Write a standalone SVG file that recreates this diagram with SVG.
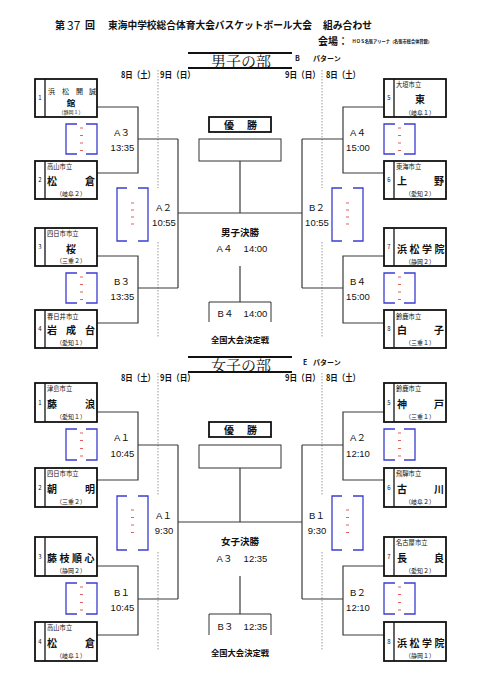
<svg xmlns="http://www.w3.org/2000/svg" width="481" height="680" viewBox="0 0 481 680">
<style>
.bg{fill:#fff}
.box{fill:#fff;stroke:#111;stroke-width:1.8}
.dv{stroke:#111;stroke-width:1.3}
.con{fill:none;stroke:#3a3a3a;stroke-width:1.2}
.thin{fill:none;stroke:#333;stroke-width:1}
.thick{fill:none;stroke:#111;stroke-width:1.8}
.dot{stroke:#9a9a9a;stroke-width:1;stroke-dasharray:1.5 1.5}
.slot{fill:none;stroke:#3c3cd2;stroke-width:1.3}
.dash{stroke:#e06060;stroke-width:1.1}
.rule{stroke:#111;stroke-width:1.8}
text{font-family:"Noto Sans CJK JP","Liberation Sans",sans-serif;fill:#111}
.num{font-size:6px;text-anchor:middle}
.sm{font-size:6.3px}
.nm{font-size:10px;font-weight:bold}
.pf{font-size:6px;text-anchor:middle}
.lbl{font-family:"Liberation Sans","Noto Sans CJK JP",sans-serif;font-size:9.5px;text-anchor:middle}
.b{font-weight:bold}
.c{text-anchor:middle}
.day{font-size:9px;font-weight:bold}
.sec{font-family:"Noto Serif CJK JP","Noto Sans CJK JP",serif;font-size:15px;text-anchor:middle}
</style>
<rect class="bg" x="0" y="0" width="481" height="680"/>

<g id="header">
<text x="55" y="29" class="b" font-size="10">第</text>
<text x="67" y="30" font-family="Liberation Sans,sans-serif" font-size="12">37</text>
<text x="85" y="29" class="b" font-size="10">回</text>
<text x="108" y="29" class="b" font-size="10" textLength="204" lengthAdjust="spacingAndGlyphs">東海中学校総合体育大会バスケットボール大会</text>
<text x="323" y="29" class="b" font-size="10" textLength="49" lengthAdjust="spacingAndGlyphs">組み合わせ</text>
<text x="318" y="45" class="b" font-size="10">会場：</text>
<text x="352" y="43" class="b" font-size="4.3" textLength="80" lengthAdjust="spacingAndGlyphs">ＨＯＳ名張アリーナ（名張市総合体育館）</text>
</g>

<g id="boys-title">
<line class="rule" x1="188" y1="53" x2="292" y2="53"/>
<line class="rule" x1="188" y1="68" x2="292" y2="68"/>
<text x="241" y="66.5" class="sec">男子の部</text>
<text x="295" y="61" class="b" font-size="7">B</text>
<text x="313" y="61" class="b" font-size="7">パターン</text>
<text x="121" y="78" class="day" textLength="34" lengthAdjust="spacingAndGlyphs">8日（土）</text>
<text x="160" y="78" class="day" textLength="35" lengthAdjust="spacingAndGlyphs">9日（日）</text>
<text x="285" y="78" class="day" textLength="35" lengthAdjust="spacingAndGlyphs">9日（日）</text>
<text x="326" y="78" class="day" textLength="34" lengthAdjust="spacingAndGlyphs">8日（土）</text>
</g>

<g id="girls-title">
<line class="rule" x1="188" y1="357" x2="292" y2="357"/>
<line class="rule" x1="188" y1="372" x2="292" y2="372"/>
<text x="241" y="370.5" class="sec">女子の部</text>
<text x="303" y="365" class="b" font-size="7">E</text>
<text x="313" y="365" class="b" font-size="7">パターン</text>
<text x="121" y="381" class="day" textLength="34" lengthAdjust="spacingAndGlyphs">8日（土）</text>
<text x="160" y="381" class="day" textLength="35" lengthAdjust="spacingAndGlyphs">9日（日）</text>
<text x="285" y="381" class="day" textLength="35" lengthAdjust="spacingAndGlyphs">9日（日）</text>
<text x="326" y="381" class="day" textLength="34" lengthAdjust="spacingAndGlyphs">8日（土）</text>
</g>

<g id="day-dividers">
<line class="dot" x1="158" y1="70" x2="158" y2="188"/>
<line class="dot" x1="158" y1="242" x2="158" y2="337"/>
<line class="dot" x1="322" y1="70" x2="322" y2="188"/>
<line class="dot" x1="322" y1="242" x2="322" y2="337"/>
<line class="dot" x1="158" y1="373" x2="158" y2="495"/>
<line class="dot" x1="158" y1="552" x2="158" y2="650"/>
<line class="dot" x1="322" y1="373" x2="322" y2="495"/>
<line class="dot" x1="322" y1="552" x2="322" y2="650"/>
</g>

<g id="connectors">
<polyline class="con" points="97,107 138,107 138,173 97,173"/>
<polyline class="con" points="97,256 138,256 138,323 97,323"/>
<line class="con" x1="138" y1="139" x2="178" y2="139"/>
<line class="con" x1="138" y1="288" x2="178" y2="288"/>
<line class="con" x1="178" y1="139" x2="178" y2="288"/>
<polyline class="con" points="384,107 343,107 343,173 384,173"/>
<polyline class="con" points="384,256 343,256 343,323 384,323"/>
<line class="con" x1="343" y1="139" x2="302" y2="139"/>
<line class="con" x1="343" y1="288" x2="302" y2="288"/>
<line class="con" x1="302" y1="139" x2="302" y2="288"/>
<line class="con" x1="178" y1="213" x2="302" y2="213"/>
<line class="con" x1="240" y1="161" x2="240" y2="213"/>
<line class="con" x1="240" y1="266" x2="240" y2="302"/>
<polyline class="con" points="97,412 138,412 138,480 97,480"/>
<polyline class="con" points="97,566 138,566 138,635 97,635"/>
<line class="con" x1="138" y1="445" x2="178" y2="445"/>
<line class="con" x1="138" y1="599" x2="178" y2="599"/>
<line class="con" x1="178" y1="445" x2="178" y2="599"/>
<polyline class="con" points="384,412 343,412 343,480 384,480"/>
<polyline class="con" points="384,566 343,566 343,635 384,635"/>
<line class="con" x1="343" y1="445" x2="302" y2="445"/>
<line class="con" x1="343" y1="599" x2="302" y2="599"/>
<line class="con" x1="302" y1="445" x2="302" y2="599"/>
<line class="con" x1="178" y1="522" x2="302" y2="522"/>
<line class="con" x1="240" y1="468" x2="240" y2="522"/>
<line class="con" x1="240" y1="576" x2="240" y2="614"/>
</g>

<g id="boys-final">
<rect class="thick" x="209" y="117" width="62" height="15"/>
<text x="224" y="129" class="nm"><tspan x="224">優</tspan><tspan x="247">勝</tspan></text>
<rect class="thin" x="199" y="139" width="82" height="22"/>
<text x="240" y="236" class="c b" font-size="9.5">男子決勝</text>
<text x="224.5" y="252" class="lbl">A４</text>
<text x="255.5" y="252" class="lbl">14:00</text>
<polyline class="thin" points="209,322 209,302 271,302 271,322"/>
<text x="225.5" y="317" class="lbl">B４</text>
<text x="255.5" y="317" class="lbl">14:00</text>
<text x="240" y="343" class="c b" font-size="8.3">全国大会決定戦</text>
</g>

<g id="girls-final">
<rect class="thick" x="209" y="422" width="62" height="15"/>
<text x="224" y="434" class="nm"><tspan x="224">優</tspan><tspan x="247">勝</tspan></text>
<rect class="thin" x="199" y="445" width="82" height="23"/>
<text x="240" y="545" class="c b" font-size="9.5">女子決勝</text>
<text x="224.5" y="562" class="lbl">A３</text>
<text x="255.5" y="562" class="lbl">12:35</text>
<polyline class="thin" points="209,635 209,614 271,614 271,635"/>
<text x="225.5" y="630" class="lbl">B３</text>
<text x="255.5" y="630" class="lbl">12:35</text>
<text x="240" y="656" class="c b" font-size="8.3">全国大会決定戦</text>
</g>

<g id="match-labels">
<text x="122" y="136" class="lbl">A３</text><text x="122.5" y="151" class="lbl">13:35</text>
<text x="164" y="211" class="lbl">A２</text><text x="164" y="226" class="lbl">10:55</text>
<text x="122" y="285" class="lbl">B３</text><text x="122.5" y="300" class="lbl">13:35</text>
<text x="358" y="136" class="lbl">A４</text><text x="358" y="151" class="lbl">15:00</text>
<text x="317" y="211" class="lbl">B２</text><text x="317" y="226" class="lbl">10:55</text>
<text x="358" y="285" class="lbl">B４</text><text x="358" y="300" class="lbl">15:00</text>
<text x="122" y="441" class="lbl">A１</text><text x="122.5" y="457" class="lbl">10:45</text>
<text x="164" y="519" class="lbl">A１</text><text x="164" y="534" class="lbl">9:30</text>
<text x="122" y="596" class="lbl">B１</text><text x="122.5" y="611" class="lbl">10:45</text>
<text x="358" y="441" class="lbl">A２</text><text x="358" y="457" class="lbl">12:10</text>
<text x="317" y="519" class="lbl">B１</text><text x="317" y="534" class="lbl">9:30</text>
<text x="358" y="596" class="lbl">B２</text><text x="358" y="611" class="lbl">12:10</text>
</g>

<g id="score-slots">
<path class="slot" d="M77,124H66V154H77M86,124H97V154H86"/>
<path class="dash" d="M80,128h3M80,135.5h3M80,143h3M80,150.5h3"/>
<path class="slot" d="M127,188H117V241H127M138,188H148V241H138"/>
<path class="dash" d="M131,203h3M131,210h3M131,217h3M131,224h3"/>
<path class="slot" d="M77,273H66V303H77M86,273H97V303H86"/>
<path class="dash" d="M80,277h3M80,284.5h3M80,292h3M80,299.5h3"/>
<path class="slot" d="M395,124H384V154H395M404,124H415V154H404"/>
<path class="dash" d="M398,128h3M398,135.5h3M398,143h3M398,150.5h3"/>
<path class="slot" d="M342,188H332V241H342M353,188H363V241H353"/>
<path class="dash" d="M346,203h3M346,210h3M346,217h3M346,224h3"/>
<path class="slot" d="M395,273H384V303H395M404,273H415V303H404"/>
<path class="dash" d="M398,277h3M398,284.5h3M398,292h3M398,299.5h3"/>
<path class="slot" d="M77,429H66V460H77M86,429H97V460H86"/>
<path class="dash" d="M80,433h3M80,440.5h3M80,448.5h3M80,456h3"/>
<path class="slot" d="M127,496H117V550H127M138,496H148V550H138"/>
<path class="dash" d="M131,510h3M131,517.5h3M131,525h3M131,532.5h3"/>
<path class="slot" d="M77,583H66V614H77M86,583H97V614H86"/>
<path class="dash" d="M80,587h3M80,594.5h3M80,602.5h3M80,610h3"/>
<path class="slot" d="M395,429H384V460H395M404,429H415V460H404"/>
<path class="dash" d="M398,433h3M398,440.5h3M398,448.5h3M398,456h3"/>
<path class="slot" d="M342,496H332V550H342M353,496H363V550H353"/>
<path class="dash" d="M346,510h3M346,517.5h3M346,525h3M346,532.5h3"/>
<path class="slot" d="M395,583H384V614H395M404,583H415V614H404"/>
<path class="dash" d="M398,587h3M398,594.5h3M398,602.5h3M398,610h3"/>
</g>

<g id="boys-team-1">
<rect class="box" x="35" y="79" width="62" height="38"/><line class="dv" x1="45" y1="79" x2="45" y2="117"/>
<text x="40" y="100" class="num">1</text>
<text y="94" style="font-size:7px" x="48 62 76 89">浜松開誠</text>
<text x="71" y="106" class="c" style="font-size:8.5px;font-weight:bold">館</text>
<text x="71" y="114.3" class="c" style="font-size:5px">（静岡１）</text>
</g>
<g id="boys-team-2">
<rect class="box" x="35" y="161" width="62" height="38"/><line class="dv" x1="45" y1="161" x2="45" y2="199"/>
<text x="40" y="182" class="num">2</text>
<text x="47" y="169" class="sm">高山市立</text>
<text y="185" class="nm" x="47 85">松倉</text>
<text x="71" y="196" class="pf">（岐阜２）</text>
</g>
<g id="boys-team-3">
<rect class="box" x="35" y="228" width="62" height="38"/><line class="dv" x1="45" y1="228" x2="45" y2="266"/>
<text x="40" y="249" class="num">3</text>
<text x="47" y="236" class="sm">四日市市立</text>
<text x="71" y="252.5" class="nm c">桜</text>
<text x="71" y="263" class="pf">（三重２）</text>
</g>
<g id="boys-team-4">
<rect class="box" x="35" y="310" width="62" height="38"/><line class="dv" x1="45" y1="310" x2="45" y2="348"/>
<text x="40" y="331" class="num">4</text>
<text x="47" y="319" class="sm">春日井市立</text>
<text y="333.5" class="nm" x="47 66 85">岩成台</text>
<text x="71" y="344.5" class="pf">（愛知１）</text>
</g>
<g id="boys-team-5">
<rect class="box" x="384" y="79" width="62" height="38"/><line class="dv" x1="394" y1="79" x2="394" y2="117"/>
<text x="389" y="100" class="num">5</text>
<text x="396" y="87" class="sm">大垣市立</text>
<text x="420" y="103" class="nm c">東</text>
<text x="420" y="114.5" class="pf">（岐阜１）</text>
</g>
<g id="boys-team-6">
<rect class="box" x="384" y="161" width="62" height="38"/><line class="dv" x1="394" y1="161" x2="394" y2="199"/>
<text x="389" y="182" class="num">6</text>
<text x="396" y="169" class="sm">東海市立</text>
<text y="185" class="nm" x="397 434">上野</text>
<text x="420" y="196" class="pf">（愛知２）</text>
</g>
<g id="boys-team-7">
<rect class="box" x="384" y="228" width="62" height="38"/><line class="dv" x1="394" y1="228" x2="394" y2="266"/>
<text x="389" y="249" class="num">7</text>
<text y="253" class="nm" x="397 409.5 422 434.5">浜松学院</text>
<text x="420" y="264" class="pf">（静岡２）</text>
</g>
<g id="boys-team-8">
<rect class="box" x="384" y="310" width="62" height="38"/><line class="dv" x1="394" y1="310" x2="394" y2="348"/>
<text x="389" y="331" class="num">8</text>
<text x="396" y="319" class="sm">鈴鹿市立</text>
<text y="333.5" class="nm" x="397 434">白子</text>
<text x="420" y="344.5" class="pf">（三重１）</text>
</g>

<g id="girls-team-1">
<rect class="box" x="35" y="383" width="62" height="39"/><line class="dv" x1="45" y1="383" x2="45" y2="422"/>
<text x="40" y="405" class="num">1</text>
<text x="47" y="391" class="sm">津島市立</text>
<text y="408" class="nm" x="47 85">藤浪</text>
<text x="71" y="418.5" class="pf">（愛知１）</text>
</g>
<g id="girls-team-2">
<rect class="box" x="35" y="468" width="62" height="39"/><line class="dv" x1="45" y1="468" x2="45" y2="507"/>
<text x="40" y="490" class="num">2</text>
<text x="47" y="476" class="sm">四日市市立</text>
<text y="492.5" class="nm" x="47 85">朝明</text>
<text x="71" y="503.5" class="pf">（三重２）</text>
</g>
<g id="girls-team-3">
<rect class="box" x="35" y="537" width="62" height="39"/><line class="dv" x1="45" y1="537" x2="45" y2="576"/>
<text x="40" y="559" class="num">3</text>
<text y="562" class="nm" x="47 59.5 72 84.5">藤枝順心</text>
<text x="71" y="573" class="pf">（静岡２）</text>
</g>
<g id="girls-team-4">
<rect class="box" x="35" y="622" width="62" height="39"/><line class="dv" x1="45" y1="622" x2="45" y2="661"/>
<text x="40" y="644" class="num">4</text>
<text x="47" y="630" class="sm">高山市立</text>
<text y="647" class="nm" x="47 85">松倉</text>
<text x="71" y="658" class="pf">（岐阜１）</text>
</g>
<g id="girls-team-5">
<rect class="box" x="384" y="383" width="62" height="39"/><line class="dv" x1="394" y1="383" x2="394" y2="422"/>
<text x="389" y="405" class="num">5</text>
<text x="396" y="391" class="sm">鈴鹿市立</text>
<text y="408" class="nm" x="397 434">神戸</text>
<text x="420" y="418.5" class="pf">（三重１）</text>
</g>
<g id="girls-team-6">
<rect class="box" x="384" y="468" width="62" height="39"/><line class="dv" x1="394" y1="468" x2="394" y2="507"/>
<text x="389" y="490" class="num">6</text>
<text x="396" y="476" class="sm">飛騨市立</text>
<text y="492.5" class="nm" x="397 434">古川</text>
<text x="420" y="503.5" class="pf">（岐阜２）</text>
</g>
<g id="girls-team-7">
<rect class="box" x="384" y="537" width="62" height="39"/><line class="dv" x1="394" y1="537" x2="394" y2="576"/>
<text x="389" y="559" class="num">7</text>
<text x="396" y="545" class="sm">名古屋市立</text>
<text y="562" class="nm" x="397 434">長良</text>
<text x="420" y="573" class="pf">（愛知２）</text>
</g>
<g id="girls-team-8">
<rect class="box" x="384" y="622" width="62" height="39"/><line class="dv" x1="394" y1="622" x2="394" y2="661"/>
<text x="389" y="644" class="num">8</text>
<text y="647" class="nm" x="397 409.5 422 434.5">浜松学院</text>
<text x="420" y="658" class="pf">（静岡１）</text>
</g>
</svg>
